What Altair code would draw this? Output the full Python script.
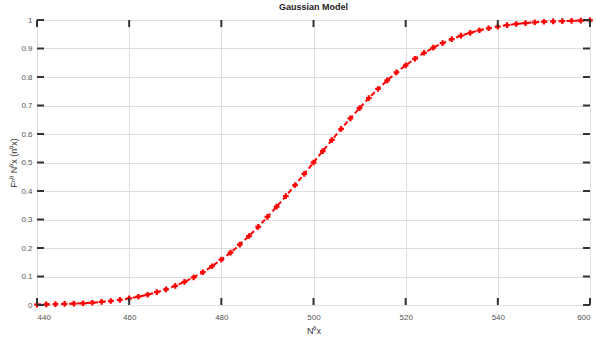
import altair as alt
import pandas as pd

# x positions of the markers (N0x)
x_vals = [440, 442, 444, 446, 448, 450, 452, 454, 456, 458,
          460, 462, 464, 466, 468, 470, 472, 474, 476, 478,
          480, 482, 484, 486, 488, 490, 492, 494, 496, 498,
          500, 502, 504, 506, 508, 510, 512, 514, 516, 518,
          520, 522, 524, 526, 528, 530, 532, 534, 536, 538,
          540, 542, 544, 546, 548, 550, 552, 554, 556, 558, 560]
# CDF values
y_vals = [0.001, 0.002, 0.003, 0.004, 0.005, 0.006, 0.008, 0.011, 0.014, 0.018,
          0.023, 0.029, 0.036, 0.045, 0.055, 0.067, 0.081, 0.097, 0.115, 0.136,
          0.159, 0.184, 0.212, 0.242, 0.274, 0.309, 0.345, 0.382, 0.421, 0.460,
          0.500, 0.540, 0.579, 0.618, 0.655, 0.691, 0.726, 0.758, 0.788, 0.816,
          0.841, 0.864, 0.885, 0.903, 0.919, 0.933, 0.945, 0.955, 0.964, 0.971,
          0.977, 0.982, 0.986, 0.989, 0.992, 0.994, 0.995, 0.996, 0.997, 0.998, 0.999]

x_ticks = [440, 460, 480, 500, 520, 540, 560]
y_ticks = [0, 0.1, 0.2, 0.3, 0.4, 0.5, 0.6, 0.7, 0.8, 0.9, 1]

df = pd.DataFrame({"x": x_vals, "y": y_vals})
xt = pd.DataFrame({"x": x_ticks})
yt = pd.DataFrame({"y": y_ticks})

W, H = 553, 285
FONT = "Liberation Sans"
xs = alt.Scale(domain=[440, 560], nice=False, zero=False)
ys = alt.Scale(domain=[0, 1], nice=False)

xa = alt.Axis(
    values=x_ticks, title="N⁰x", grid=True, gridColor="#dedede",
    labelExpr="datum.value == 560 ? '600' : datum.label",
    labelFontSize=8, labelColor="#555", labelFont=FONT, labelOverlap=False,
    tickSize=0, domain=False, labelPadding=8,
    titleFontSize=9, titleFontWeight="normal", titleColor="#333",
    titleFont=FONT, titlePadding=5)
ya = alt.Axis(
    values=y_ticks, title="Fⁿ⁰ N⁰x (n⁰x)", grid=True, gridColor="#dedede",
    labelFontSize=8, labelColor="#555", labelFont=FONT, labelOverlap=False,
    tickSize=0, domain=False, labelPadding=5,
    labelExpr="datum.value == 0 ? '0' : datum.value == 1 ? '1' : format(datum.value, '.1f')",
    titleFontSize=9, titleFontWeight="normal", titleColor="#333",
    titleFont=FONT, titlePadding=2)

curve = alt.Chart(df).mark_line(
    color="#ff0000", strokeWidth=2, strokeDash=[5, 3],
    point=alt.OverlayMarkDef(shape="cross", filled=True, color="#ff0000", size=32),
).encode(
    x=alt.X("x:Q", scale=xs, axis=xa),
    y=alt.Y("y:Q", scale=ys, axis=ya),
)

tick_col = "#333333"
xb = alt.Chart(xt).mark_rule(color=tick_col, strokeWidth=2).encode(
    x=alt.X("x:Q", scale=xs, axis=xa), y=alt.value(H), y2=alt.value(H - 7))
xtop = alt.Chart(xt).mark_rule(color=tick_col, strokeWidth=2).encode(
    x=alt.X("x:Q", scale=xs, axis=xa), y=alt.value(0), y2=alt.value(7))
yl = alt.Chart(yt).mark_rule(color=tick_col, strokeWidth=2).encode(
    y=alt.Y("y:Q", scale=ys, axis=ya), x=alt.value(0), x2=alt.value(7))
yr = alt.Chart(yt).mark_rule(color=tick_col, strokeWidth=2).encode(
    y=alt.Y("y:Q", scale=ys, axis=ya), x=alt.value(W), x2=alt.value(W - 7))

chart = alt.layer(curve, xb, xtop, yl, yr).properties(
    width=W, height=H,
    title=alt.TitleParams("Gaussian Model", fontSize=9, fontWeight="bold",
                          font=FONT, color="#222", offset=4),
    autosize=alt.AutoSizeParams(type="none"),
    padding={"left": 37, "top": 20, "right": 6, "bottom": 32},
).configure_view(stroke="#333333", strokeWidth=2).configure(background="white")

chart.save("out.html", embed_options={"renderer": "svg", "actions": False})
